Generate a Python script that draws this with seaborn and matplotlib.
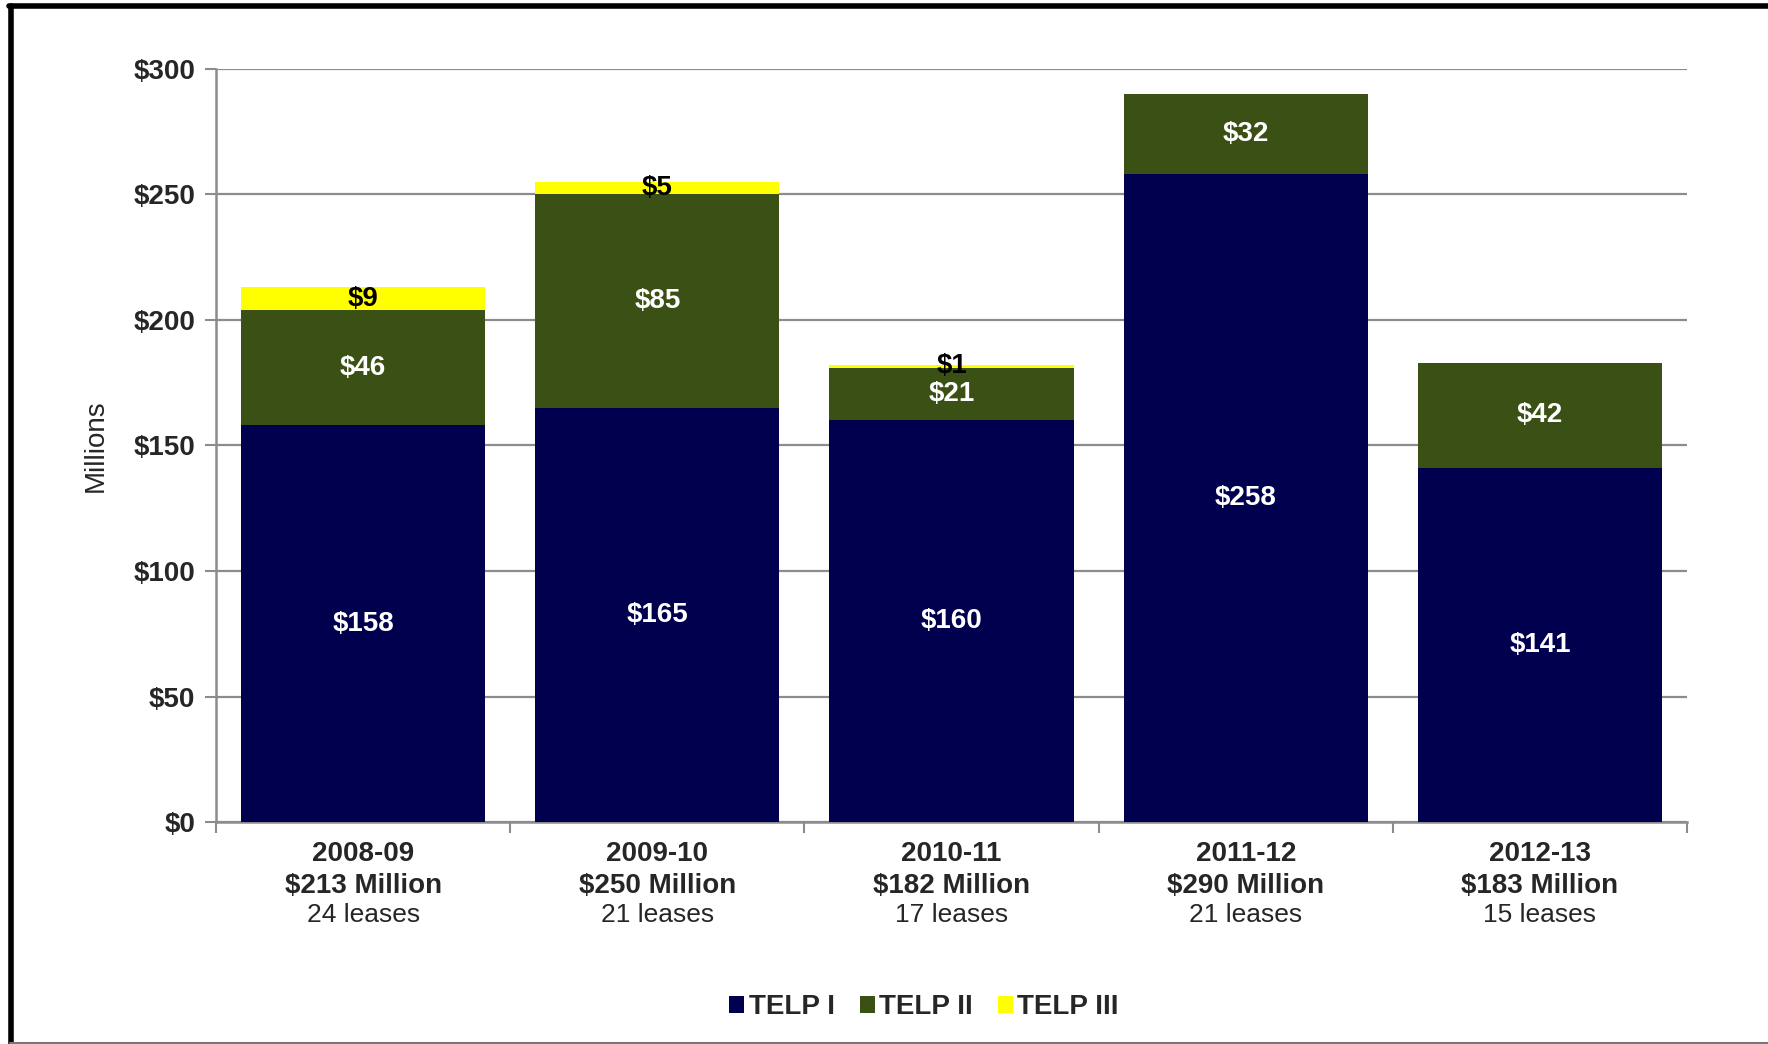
import matplotlib
matplotlib.use("Agg")
import matplotlib.pyplot as plt
from matplotlib.lines import Line2D
from matplotlib.patches import Patch
import numpy as np
import seaborn as sns

# data (values in $ millions)
seasons = ["2008-09", "2009-10", "2010-11", "2011-12", "2012-13"]
season_totals = ["$213 Million", "$250 Million", "$182 Million", "$290 Million", "$183 Million"]
lease_counts = ["24 leases", "21 leases", "17 leases", "21 leases", "15 leases"]
telp_1 = [158, 165, 160, 258, 141]
telp_2 = [46, 85, 21, 32, 42]
telp_3 = [9, 5, 1, 0, 0]
series_names = ["TELP I", "TELP II", "TELP III"]
series_colors = ["#00004F", "#3A5014", "#FFFF00"]
label_colors = ["white", "white", "black"]
y_ticks = [0, 50, 100, 150, 200, 250, 300]

sns.set_theme(style="white")
plt.rcParams["font.family"] = ["Liberation Sans", "DejaVu Sans"]

fig = plt.figure(figsize=(17.68, 10.44), dpi=100)
ax = fig.add_axes([216 / 1768, 1 - 822 / 1044, (1687 - 216) / 1768, (822 - 69) / 1044])

series = [np.array(telp_1), np.array(telp_2), np.array(telp_3)]
bottoms = [np.zeros(5), series[0], series[0] + series[1]]
tops = [b + s for b, s in zip(bottoms, series)]

# stacked bars: draw cumulative totals from the top series down
for top, color in reversed(list(zip(tops, series_colors))):
    sns.barplot(x=seasons, y=top, color=color, saturation=1, width=0.83,
                linewidth=0, ax=ax, zorder=3)

# segment labels
for vals, base, lc in zip(series, bottoms, label_colors):
    for i, (v, b) in enumerate(zip(vals, base)):
        if v <= 0:
            continue
        ax.text(i, b + v / 2, f"${v}", ha="center", va="center", color=lc,
                fontsize=20, fontweight="bold", zorder=5)

ax.set_xlim(-0.5, 4.5)
ax.set_ylim(0, 300)
ax.set_yticks(y_ticks)
ax.set_yticklabels([f"${t}" for t in y_ticks], fontsize=20, fontweight="bold")
ax.tick_params(axis="y", which="major", left=True, length=8, width=1.5,
               color="#8C8C8C", pad=7)
ax.set_ylabel("Millions", fontsize=20, labelpad=18)
ax.yaxis.grid(True, color="#8C8C8C", linewidth=1.6, zorder=0)
ax.set_axisbelow(True)

# category labels: three lines each
ax.set_xticks(range(5))
ax.set_xticklabels([])
ax.tick_params(axis="x", which="major", bottom=False)
ax.set_xticks(np.arange(-0.5, 5, 1), minor=True)
ax.tick_params(axis="x", which="minor", bottom=True, length=8, width=1.5, color="#8C8C8C")
trans = ax.get_xaxis_transform()
for i in range(5):
    ax.annotate(seasons[i], (i, 0), xycoords=trans, xytext=(0, -32), textcoords="offset pixels",
                ha="center", va="center", fontsize=20, fontweight="bold")
    ax.annotate(season_totals[i], (i, 0), xycoords=trans, xytext=(0, -64), textcoords="offset pixels",
                ha="center", va="center", fontsize=20, fontweight="bold")
    ax.annotate(lease_counts[i], (i, 0), xycoords=trans, xytext=(0, -93), textcoords="offset pixels",
                ha="center", va="center", fontsize=19)

for side in ["top", "right"]:
    ax.spines[side].set_visible(False)
for side in ["left", "bottom"]:
    ax.spines[side].set_color("#8C8C8C")
    ax.spines[side].set_linewidth(1.8)

handles = [Patch(facecolor=c, edgecolor="none") for c in series_colors]
fig.legend(handles, series_names, loc="center", bbox_to_anchor=(924 / 1768, 1 - 1007 / 1044),
           ncol=3, frameon=False, prop={"size": 20, "weight": "bold"},
           handlelength=0.55, handleheight=0.55, handletextpad=0.15, columnspacing=0.9)

# outer frame (black left/top, grey bottom)
fig.add_artist(Line2D([10.5 / 1768, 10.5 / 1768], [0, 1 - 5.5 / 1044], transform=fig.transFigure,
                      color="black", linewidth=4))
fig.add_artist(Line2D([8.5 / 1768, 1], [1 - 5.5 / 1044, 1 - 5.5 / 1044], transform=fig.transFigure,
                      color="black", linewidth=4))
fig.add_artist(Line2D([10 / 1768, 1], [1.5 / 1044, 1.5 / 1044], transform=fig.transFigure,
                      color="#777777", linewidth=1.5))

fig.savefig("out.png", dpi=100)
